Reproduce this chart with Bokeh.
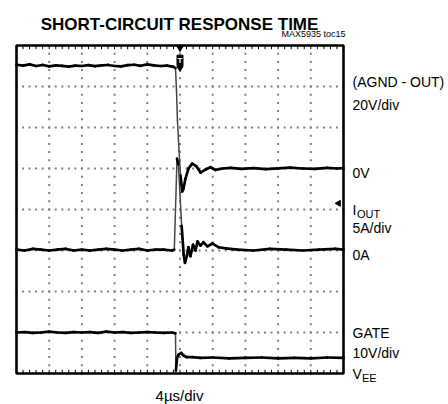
import numpy as np
from bokeh.plotting import figure
from bokeh.embed import file_html
from bokeh.resources import INLINE
from bokeh.core.properties import value

# ---------------- data ----------------
TITLE = "SHORT-CIRCUIT RESPONSE TIME"
NOTE = "MAX5935 toc15"
X_LABEL = "4\u00b5s/div"
US_PER_DIV = 4
N_XDIV = 10
N_YDIV = 8
TRIGGER_US = 20

# channel 1: (AGND - OUT), volts, 20V/div, 0V at division 5
ch1_label = ["(AGND - OUT)", "20V/div", "0V"]
ch1_scale = 20.0
ch1_zero = 5.0
ch1_t = [0, 0.8, 1.6, 2.4, 3.2, 4.0, 4.8, 5.6, 6.4, 7.2, 8.0, 8.8, 9.6, 10.4,
         11.2, 12.0, 12.8, 13.6, 14.4, 15.2, 16.0, 16.8, 17.6, 18.4, 19.2,
         19.45, 19.57, 19.69, 19.88, 20.06, 20.27, 20.43, 20.67, 21.04, 21.49,
         22.02, 22.51, 23.12, 23.73, 24.34, 25.2, 26.2, 27.5, 29.0, 30.5, 32.0,
         33.5, 35.0, 36.5, 38.0, 39.2, 40.0]
ch1_v = [50.6, 50.2, 50.8, 50.0, 50.5, 49.8, 50.3, 50.1, 49.7, 50.2, 50.0, 50.4,
         49.9, 50.3, 50.5, 50.0, 49.8, 50.4, 50.6, 50.1, 50.8, 50.3, 50.0, 50.2,
         49.6, 49.0, 38.0, 23.4, 8.8, -3.4, -11.2, -9.8, -4.9, 0.0, 2.4,
         1.0, -2.0, -0.5, 0.6, -0.7, 0.0, 0.3, -0.2, 0.2, -0.3, 0.1,
         0.4, 0.0, -0.2, 0.3, 0.0, 0.2]

# channel 2: I_OUT, amps, 5A/div, 0A at division 3
ch2_label = ["I", "OUT", "5A/div", "0A"]
ch2_scale = 5.0
ch2_zero = 3.0
ch2_t = [0, 1, 2, 3, 4, 5, 6, 7, 8, 9, 10, 11, 12, 13, 14, 15, 16, 17, 18,
         19.0, 19.3, 19.45, 19.63, 19.8, 19.99, 20.2, 20.45, 20.61, 20.86,
         21.04, 21.28, 21.59, 21.9, 22.14, 22.51, 22.87, 23.36, 23.98, 24.7,
         25.6, 27, 29, 31, 33, 35, 37, 39, 40]
ch2_i = [0.1, 0.0, 0.2, 0.1, 0.0, 0.1, 0.2, 0.0, 0.1, 0.0, 0.1, 0.2, 0.1, 0.0,
         0.1, 0.2, 0.0, 0.1, 0.1,
         0.0, 0.1, 5.0, 11.2, 10.5, 7.0, 3.0, -0.5, -1.5, -0.6,
         0.4, -0.7, 0.7, 0.0, 1.1, 0.6, 1.0, 0.5, 0.85, 0.4,
         0.25, 0.1, 0.0, 0.2, 0.1, 0.0, 0.1, 0.2, 0.1]

# channel 3: GATE, volts, 10V/div, V_EE at division 0.25
ch3_label = ["GATE", "10V/div", "V", "EE"]
ch3_scale = 10.0
ch3_zero = 0.25
ch3_t = [0, 1, 2, 3, 4, 5, 6, 7, 8, 9, 10, 11, 12, 13, 14, 15, 16, 17, 18,
         19.0, 19.45, 19.5, 19.63, 19.82, 20.15, 20.43, 20.8, 21.5, 22.5,
         24, 26, 28, 30, 32, 34, 36, 38, 40]
ch3_v = [7.5, 7.6, 7.4, 7.5, 7.7, 7.5, 7.4, 7.6, 7.5, 7.6, 7.4, 7.7, 7.5, 7.6,
         7.4, 7.5, 7.6, 7.5, 7.4,
         7.5, 7.3, -1.8, 1.2, 2.1, 2.5, 1.9, 1.5, 1.5, 1.3,
         1.4, 1.2, 1.3, 1.4, 1.2, 1.3, 1.2, 1.4, 1.3]

# ---------------- figure ----------------
XMAX = US_PER_DIV * N_XDIV
FONT = "Liberation Sans"
W, H = 448, 404
SC_L, SC_R, SC_T, SC_B = 16, 343, 45, 373          # screen box of the graticule
ux = XMAX / (SC_R - SC_L)                           # us per pixel
uy = N_YDIV / (SC_B - SC_T)                         # div per pixel
x_range = (-SC_L * ux, XMAX + (W - SC_R) * ux)
y_range = (-(H - SC_B) * uy, N_YDIV + SC_T * uy)

p = figure(width=W, height=H, x_range=x_range, y_range=y_range,
           x_axis_type=None, y_axis_type=None, toolbar_location=None,
           output_backend="svg", min_border=0)
p.outline_line_color = None
p.background_fill_color = "white"
p.border_fill_color = "white"

# dotted graticule (dots every 1/5 division)
sub_x = np.arange(0, XMAX + 1e-9, US_PER_DIV / 5)
sub_y = np.arange(0, N_YDIV + 1e-9, 0.2)
gx, gy = [], []
for k in range(1, N_XDIV):
    gx += [k * US_PER_DIV] * len(sub_y)
    gy += list(sub_y)
for k in range(1, N_YDIV):
    gx += list(sub_x)
    gy += [k] * len(sub_x)
p.scatter(gx, gy, marker="square", size=2, color="#808080", line_width=0)

# minor ticks on top and bottom border
p.segment(x0=sub_x, y0=N_YDIV, x1=sub_x, y1=N_YDIV - 0.09, line_color="black", line_width=1)
p.segment(x0=sub_x, y0=0, x1=sub_x, y1=0.09, line_color="black", line_width=1)

def to_div(vals, zero, scale):
    return [zero + v / scale for v in vals]

# traces: slow parts thick black, fast edges thinner and greyer (as on a scope)
FAST = 3.0   # div per us
for t, y in ((ch1_t, to_div(ch1_v, ch1_zero, ch1_scale)),
             (ch2_t, to_div(ch2_i, ch2_zero, ch2_scale)),
             (ch3_t, to_div(ch3_v, ch3_zero, ch3_scale))):
    t = np.asarray(t, float)
    y = np.asarray(y, float)
    slope = np.abs(np.diff(y) / np.diff(t))
    fast = slope > FAST
    slow = ~fast
    p.segment(x0=t[:-1][fast], y0=y[:-1][fast], x1=t[1:][fast], y1=y[1:][fast],
              line_color="#444444", line_width=1.5, line_cap="round")
    p.segment(x0=t[:-1][slow], y0=y[:-1][slow], x1=t[1:][slow], y1=y[1:][slow],
              line_color="black", line_width=2.7, line_cap="round")

# graticule border
p.quad(left=[0], right=[XMAX], bottom=[0], top=[N_YDIV], fill_color=None,
       line_color="black", line_width=2.6)

# trigger marker
p.scatter([TRIGGER_US], [N_YDIV - 0.05], marker="inverted_triangle", size=7, color="black")
p.rect(x=[TRIGGER_US], y=[7.63], width=6, height=11, width_units="screen",
       height_units="screen", color="black")
p.scatter([TRIGGER_US], [7.45], marker="inverted_triangle", size=6, color="black")
p.text(x=[TRIGGER_US], y=[7.64], text=["T"], text_color="white", text_font_size="8px",
       text_font_style="bold", text_align="center", text_baseline="middle",
       text_font=value(FONT))
# channel marker on right edge
p.scatter([39.4], [4.15], marker="triangle", angle=np.pi / 2, size=6, color="black")

def lab(text, x, y, size, align="left", font=FONT, style="normal"):
    p.text(x=[x], y=[y], text=[text], text_font_size=size, text_align=align,
           text_baseline="alphabetic", text_font=value(font),
           text_font_style=style, text_color="black")

lab(TITLE, 19.94, 8.51, "17px", align="center", style="bold")
lab(NOTE, 40.24, 8.27, "9px", align="right")
lab(X_LABEL, 19.94, -0.54, "15px", align="center")

RX = 41.1
lab(ch1_label[0], RX, 7.10, "14px")
lab(ch1_label[1], RX, 6.54, "14px")
lab(ch1_label[2], RX, 4.88, "14px")
lab(ch2_label[0], RX, 3.98, "14px")
lab(ch2_label[1], RX + 0.55, 3.90, "11px")
lab(ch2_label[2], RX, 3.56, "14px")
lab(ch2_label[3], RX, 2.88, "14px")
lab(ch3_label[0], RX, 0.98, "14px")
lab(ch3_label[1], RX, 0.49, "14px")
lab(ch3_label[2], RX, -0.02, "14px")
lab(ch3_label[3], RX + 1.16, -0.10, "11px")

open("out.html", "w").write(file_html(p, INLINE))
